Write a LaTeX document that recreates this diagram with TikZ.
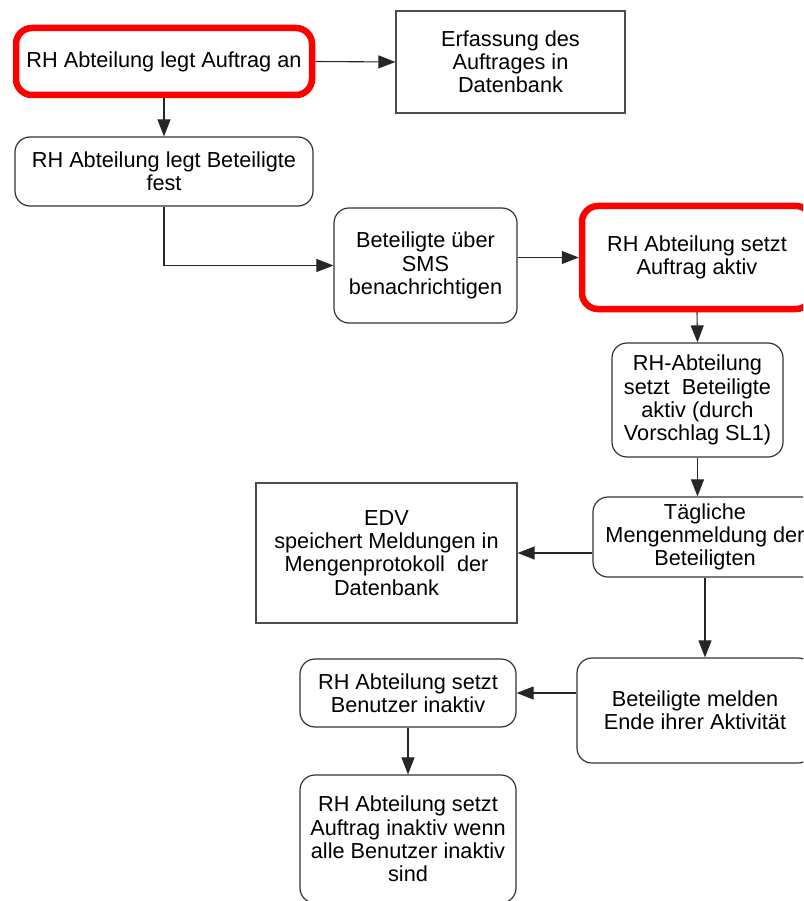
\documentclass[tikz,border=0pt]{standalone}
\usepackage{fontspec}
\setmainfont{Liberation Sans}
\usetikzlibrary{arrows.meta}
\begin{document}
\begin{tikzpicture}[x=1pt,y=-1pt,
  txt/.style={align=center,font=\fontsize{21.7}{23.2}\selectfont,inner sep=0pt},
  roundbox/.style={txt,draw=black!80,line width=1.2pt,rounded corners=15pt},
  keybox/.style={txt,draw=red,line width=6.5pt,rounded corners=16pt},
  plainbox/.style={txt,draw=black!70,line width=1.2pt},
  flow/.style={draw=black!85,line width=1.1pt,-{Triangle[length=17pt,width=13pt]}}]
\useasboundingbox (0,0) rectangle (803,901);
\clip (0,0) rectangle (803,901);

% process steps
\node[keybox,minimum width=296pt,minimum height=67pt] (b1) at (164,61.5) {RH Abteilung legt Auftrag an};
\node[plainbox,minimum width=229pt,minimum height=102pt] (b2) at (510.5,62) {Erfassung des\\Auftrages in\\Datenbank};
\node[roundbox,minimum width=298pt,minimum height=69pt] (b3) at (164,171.5) {RH Abteilung legt Beteiligte\\fest};
\node[roundbox,minimum width=183pt,minimum height=115pt] (b4) at (425.5,265.5) {Beteiligte über\\SMS\\benachrichtigen};
\node[keybox,minimum width=230pt,minimum height=103pt] (b5) at (697,257.5) {RH Abteilung setzt\\Auftrag aktiv};
\node[roundbox,minimum width=171pt,minimum height=114pt] (b6) at (697.5,400) {RH-Abteilung\\setzt\ \ Beteiligte\\aktiv (durch\\Vorschlag SL1)};
\node[roundbox,minimum width=224pt,minimum height=80pt] (b7) at (705,537) {Tägliche\\Mengenmeldung der\\Beteiligten};
\node[plainbox,minimum width=261pt,minimum height=140pt] (b8) at (386.5,553) {EDV\\speichert Meldungen in\\Mengenprotokoll\ \ der\\Datenbank};
\node[roundbox,minimum width=236pt,minimum height=105pt] (b9) at (695,710.5) {Beteiligte melden\\Ende ihrer Aktivität};
\node[roundbox,minimum width=216pt,minimum height=68pt] (b10) at (408,693) {RH Abteilung setzt\\Benutzer inaktiv};
\node[roundbox,minimum width=216pt,minimum height=128pt] (b11) at (408,839) {RH Abteilung setzt\\Auftrag inaktiv wenn\\alle Benutzer inaktiv\\sind};

% connectors
\draw[flow] (b1.east) -- (b2.west);
\draw[flow] (b1.south) -- (b3.north);
\draw[flow] (b3.south) |- (b4.west);
\draw[flow] (b4.east |- b5.west) -- (b5.west);
\draw[flow] (b5.south) -- (b6.north);
\draw[flow] (b6.south) -- (b6.south |- b7.north);
\draw[flow] (b7.west |- b8.east) -- (b8.east);
\draw[flow] (b7.south) -- (b7.south |- b9.north);
\draw[flow] (b9.west |- b10.east) -- (b10.east);
\draw[flow] (b10.south) -- (b11.north);
\end{tikzpicture}
\end{document}
